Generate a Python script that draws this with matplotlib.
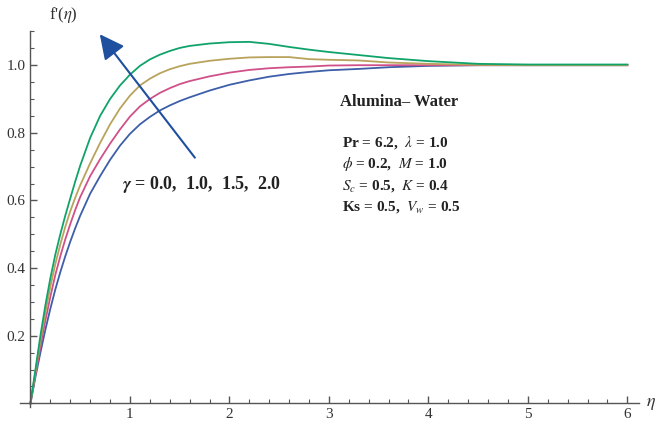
import matplotlib
matplotlib.use("Agg")
import matplotlib.pyplot as plt
from matplotlib.ticker import MultipleLocator

plt.rcParams['font.family'] = ['Liberation Serif', 'DejaVu Serif']
plt.rcParams['mathtext.fontset'] = 'stix'

# data
eta = [0, 0.05, 0.1, 0.15, 0.2, 0.25, 0.3, 0.35, 0.4, 0.45, 0.5, 0.6, 0.7, 0.8, 0.9,
       1.0, 1.1, 1.2, 1.3, 1.4, 1.5, 1.6, 1.8, 2.0, 2.2, 2.4, 2.6, 2.8, 3.0, 3.3,
       3.6, 4.0, 4.5, 5.0, 5.5, 6.0]
f_g00 = [0, 0.078, 0.15, 0.218, 0.28, 0.337, 0.388, 0.435, 0.478, 0.518, 0.555, 0.62, 0.672, 0.72, 0.762,
         0.797, 0.825, 0.847, 0.866, 0.881, 0.894, 0.905, 0.925, 0.942, 0.955, 0.966, 0.974, 0.98, 0.985, 0.989,
         0.994, 0.998, 1.0, 1.0, 1.0, 1.0]
f_g10 = [0, 0.085, 0.168, 0.245, 0.315, 0.38, 0.435, 0.485, 0.53, 0.572, 0.61, 0.672, 0.722, 0.768, 0.81,
         0.848, 0.878, 0.9, 0.918, 0.932, 0.944, 0.953, 0.967, 0.978, 0.986, 0.991, 0.994, 0.996, 0.999, 1.0,
         1.0, 1.0, 1.0, 1.0, 1.0, 1.0]
f_g15 = [0, 0.093, 0.185, 0.268, 0.345, 0.412, 0.47, 0.522, 0.568, 0.608, 0.645, 0.71, 0.77, 0.825, 0.872,
         0.91, 0.94, 0.96, 0.976, 0.988, 0.997, 1.004, 1.013, 1.019, 1.023, 1.024, 1.024, 1.018, 1.016, 1.014,
         1.008, 1.004, 1.001, 1.0, 1.0, 1.0]
f_g20 = [0, 0.10, 0.20, 0.29, 0.37, 0.44, 0.50, 0.555, 0.606, 0.656, 0.703, 0.785, 0.85, 0.9, 0.94,
         0.972, 0.998, 1.017, 1.031, 1.042, 1.051, 1.057, 1.064, 1.068, 1.069, 1.063, 1.054, 1.046, 1.039, 1.030,
         1.021, 1.012, 1.004, 1.002, 1.002, 1.002]

curves = [f_g00, f_g10, f_g15, f_g20]
colors = ['#3d5ea8', '#d0508a', '#b9a35c', '#0fa36a']

fig = plt.figure(figsize=(6.59, 4.24), dpi=100)
ax = fig.add_axes([0.0311, 0.039, 0.939, 0.887])

for y, c in zip(curves, colors):
    ax.plot(eta, y, color=c, lw=1.3)

ax.set_xlim(-0.1, 6.12)
ax.set_ylim(-0.012, 1.1)
ax.spines['left'].set_position(('data', 0))
ax.spines['bottom'].set_position(('data', 0))
ax.spines['top'].set_visible(False)
ax.spines['right'].set_visible(False)
for s in ['left', 'bottom']:
    ax.spines[s].set_color('#555555')
    ax.spines[s].set_linewidth(1.0)

ax.set_xticks([1, 2, 3, 4, 5, 6])
ax.set_yticks([0.2, 0.4, 0.6, 0.8, 1.0])
ax.set_yticklabels(['0.2', '0.4', '0.6', '0.8', '1.0'])
ax.xaxis.set_minor_locator(MultipleLocator(0.2))
ax.yaxis.set_minor_locator(MultipleLocator(0.05))
ax.tick_params(which='major', direction='in', length=5, width=1, color='#555555',
               labelsize=11, labelcolor='#333333')
ax.tick_params(which='minor', direction='in', length=3, width=0.8, color='#555555')
ax.tick_params(axis='x', pad=3)

fig.text(0.075, 0.955, r"f'($\eta$)", fontsize=12, color='#333333')
fig.text(0.988, 0.043, r"$\eta$", fontsize=13, color='#333333', ha='center')

ax.annotate('', xy=(0.68, 1.098), xytext=(1.67, 0.72),
            arrowprops=dict(arrowstyle='-|>,head_length=1.5,head_width=0.75',
                            color='#1f4f9f', lw=1.5))

ax.text(0.92, 0.646, r"$\boldsymbol{\gamma}$ = 0.0,  1.0,  1.5,  2.0", fontsize=13,
        fontweight='bold', va='center', color='#222222')
ax.text(3.11, 0.89, "Alumina\u2013 Water", fontsize=12, fontweight='bold',
        va='center', color='#222222')

params = [r"Pr = 6.2,  $\lambda$ = 1.0",
          r"$\phi$ = 0.2,  $M$ = 1.0",
          r"$S_c$ = 0.5,  $K$ = 0.4",
          r"Ks = 0.5,  $V_w$ = 0.5"]
for i, p in enumerate(params):
    ax.text(3.13, 0.77 - i * 0.063, p, fontsize=11, fontweight='bold',
            va='center', color='#222222')

fig.savefig('out.png', dpi=100)
